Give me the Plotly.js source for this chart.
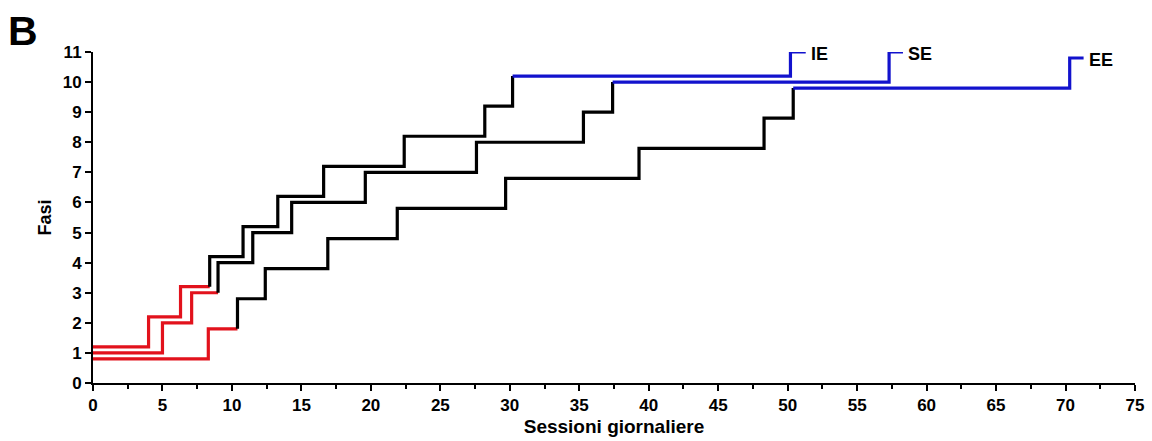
<!DOCTYPE html>
<html><head><meta charset="utf-8">
<script src="https://cdn.plot.ly/plotly-3.0.1.min.js"></script>
<style>body{margin:0;background:#fff}#chart{width:1152px;height:441px}</style>
</head><body><div id="chart"></div>
<script>
// Step start positions (sessions) and phase levels for each group
const ieStarts = [0, 4.0, 6.3, 8.4, 10.8, 13.3, 16.6, 22.4, 28.2, 30.2, 50.2];
const ieLevels = [1.2, 2.2, 3.2, 4.2, 5.2, 6.2, 7.2, 8.2, 9.2, 10.2, 11.0];
const ieEnd = 51.3;

const seStarts = [0, 5.0, 7.1, 9.0, 11.5, 14.3, 19.6, 27.6, 35.3, 37.4, 57.3];
const seLevels = [1.0, 2.0, 3.0, 4.0, 5.0, 6.0, 7.0, 8.0, 9.0, 10.0, 11.0];
const seEnd = 58.3;

const eeStarts = [0, 8.3, 10.4, 12.4, 16.9, 21.9, 29.7, 39.3, 48.3, 50.4, 70.3];
const eeLevels = [0.8, 1.8, 2.8, 3.8, 4.8, 5.8, 6.8, 7.8, 8.8, 9.8, 10.8];
const eeEnd = 71.3;

const groupLabels = ["IE", "SE", "EE"];
const xTicks = [0, 5, 10, 15, 20, 25, 30, 35, 40, 45, 50, 55, 60, 65, 70, 75];
const yTicks = [0, 1, 2, 3, 4, 5, 6, 7, 8, 9, 10, 11];
// index ranges: red levels 0..redLast, blue from blueFirst
const redLast = [2, 2, 1];
const blueFirst = [9, 9, 9];

const RED = "rgb(226,18,28)", BLK = "#000000", BLU = "rgb(18,18,205)";
const traces = [];
const groups = [[ieStarts, ieLevels, ieEnd], [seStarts, seLevels, seEnd], [eeStarts, eeLevels, eeEnd]];
groups.forEach((g, gi) => {
  const [s, l, end] = g;
  const r = redLast[gi], b = blueFirst[gi];
  let x = [], y = [];
  for (let i = 0; i <= r; i++) { x.push(s[i]); y.push(l[i]); }
  x.push(s[r + 1]); y.push(l[r]);
  traces.push({x, y, color: RED});
  x = [s[r + 1]]; y = [l[r]];
  for (let i = r + 1; i < b; i++) { x.push(s[i]); y.push(l[i]); }
  x.push(s[b]); y.push(l[b - 1]);
  x.push(s[b]); y.push(l[b]);
  traces.push({x, y, color: BLK});
  x = []; y = [];
  for (let i = b; i < s.length; i++) { x.push(s[i]); y.push(l[i]); }
  x.push(end); y.push(l[l.length - 1]);
  traces.push({x, y, color: BLU});
});

const data = traces.map(t => ({
  x: t.x, y: t.y, type: "scatter", mode: "lines",
  line: {shape: "hv", color: t.color, width: 3.2},
  cliponaxis: false, showlegend: false, hoverinfo: "skip"
}));

const F = "Liberation Sans, Arial, sans-serif";
const annotations = groups.map((g, gi) => ({
  x: g[2], y: g[1][g[1].length - 1], xref: "x", yref: "y",
  text: "<b>" + groupLabels[gi] + "</b>", showarrow: false,
  xanchor: "left", yanchor: "middle", xshift: 3, yshift: -2,
  font: {family: F, size: 18, color: "#000"}
}));
annotations.push({
  x: 0, y: 1, xref: "paper", yref: "paper", xanchor: "left", yanchor: "top",
  text: "<b>B</b>", showarrow: false, xshift: -87, yshift: 46,
  font: {family: F, size: 41, color: "#000"}
});

const bold = v => v.map(t => "<b>" + t + "</b>");
const layout = {
  width: 1152, height: 441,
  margin: {l: 93, r: 17, t: 52, b: 58},
  paper_bgcolor: "#fff", plot_bgcolor: "#fff",
  font: {family: F, color: "#000"},
  xaxis: {
    range: [0, 75], tickmode: "array", tickvals: xTicks, ticktext: bold(xTicks),
    showgrid: false, zeroline: false,
    showline: true, linecolor: "#000", linewidth: 2,
    ticks: "outside", ticklen: 6, tickwidth: 2, tickcolor: "#000",
    minor: {dtick: 2.5, tick0: 0, ticks: "outside", ticklen: 4, tickwidth: 2, tickcolor: "#000", showgrid: false},
    tickfont: {family: F, size: 17, color: "#000"},
    title: {text: "<b>Sessioni giornaliere</b>", font: {family: F, size: 19, color: "#000"}, standoff: 5}
  },
  yaxis: {
    range: [0, 11], tickmode: "array", tickvals: yTicks, ticktext: bold(yTicks),
    showgrid: false, zeroline: false,
    showline: true, linecolor: "#000", linewidth: 2,
    ticks: "outside", ticklen: 6, tickwidth: 2, tickcolor: "#000",
    tickfont: {family: F, size: 17, color: "#000"},
    title: {text: "<b>Fasi</b>", font: {family: F, size: 18, color: "#000"}, standoff: 6}
  },
  annotations
};
Plotly.newPlot("chart", data, layout, {staticPlot: true});
</script></body></html>
